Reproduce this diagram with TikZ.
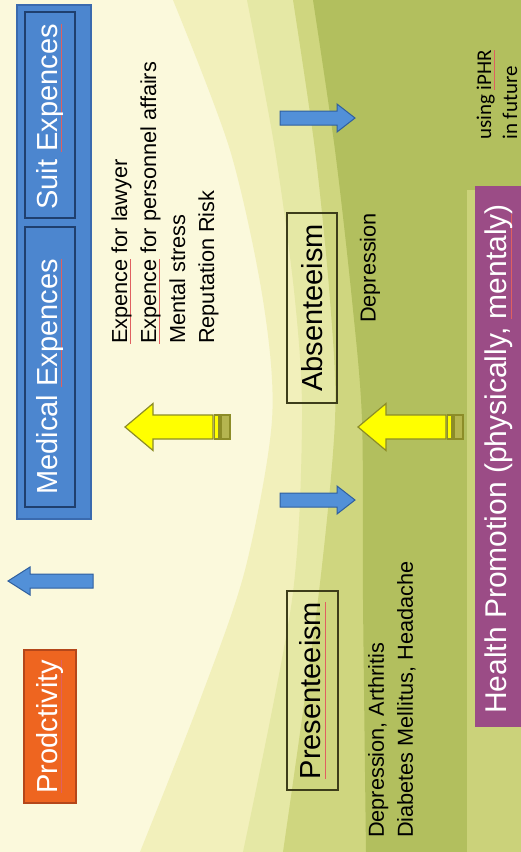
\documentclass[tikz,border=0pt]{standalone}
\usepackage{fontspec}
\setmainfont{Liberation Sans}
\newfontfamily\notefont{Carlito}

\definecolor{cream}{HTML}{FBF9DC}
\definecolor{pale}{HTML}{F2F0BB}
\definecolor{bandtwo}{HTML}{E5E8A5}
\definecolor{bandthree}{HTML}{CFD67F}
\definecolor{leaf}{HTML}{B2BF5E}
\definecolor{stripgreen}{HTML}{CBD27A}
\definecolor{boxblue}{HTML}{4C86CF}
\definecolor{boxblueline}{HTML}{3A6AAE}
\definecolor{navy}{HTML}{1F3F6E}
\definecolor{orangebox}{HTML}{EE6520}
\definecolor{orangeline}{HTML}{B4471A}
\definecolor{plum}{HTML}{9B4C86}
\definecolor{olive}{HTML}{3D3D1A}
\definecolor{arrowblue}{HTML}{5290D8}
\definecolor{arrowblueline}{HTML}{2F5F9E}
\definecolor{arrowyellow}{HTML}{FFFF00}
\definecolor{arrowyellowline}{HTML}{8C8C28}
\definecolor{ystripe}{HTML}{B5B550}
\definecolor{sqred}{HTML}{E06060}

% spell-check style underline
\newsavebox\sqbox
\newcommand\sq[1]{\sbox\sqbox{#1}\rlap{\textcolor{sqred}{\rule[-0.3ex]{\wd\sqbox}{0.6pt}}}\usebox\sqbox}

\tikzset{
  bigtext/.style={font=\fontsize{29}{34}\selectfont},
  smalltext/.style={font=\fontsize{21.7}{29}\selectfont, align=left, inner sep=0pt, text=black},
  outerblue/.style={draw=boxblueline, fill=boxblue, line width=1.2pt},
  innerblue/.style={draw=navy, line width=1.5pt, inner sep=0pt, rotate=90},
  bluelabel/.style={bigtext, text=white, inner sep=0pt, rotate=90},
  orangecard/.style={draw=orangeline, fill=orangebox, line width=1.2pt, bigtext, text=white, inner sep=0pt, rotate=90},
  outlinebox/.style={draw=olive, line width=1.2pt, bigtext, text=black, inner sep=0pt, rotate=90},
  bluearrowstyle/.style={draw=arrowblueline, fill=arrowblue, line width=1pt, line join=miter},
  yarrowstyle/.style={draw=arrowyellowline, fill=arrowyellow, line width=1.2pt, line join=miter},
  pics/bluearrow/.style n args={2}{code={%
    \draw[bluearrowstyle] (0,0) -- (-#2,-14) -- (-#2,-7) -- (-#1,-7) -- (-#1,7) -- (-#2,7) -- (-#2,14) -- cycle;}},
  pics/yellowarrow/.style={code={%
    \draw[yarrowstyle] (0,0) -- (28,-23.5) -- (28,-12) -- (88,-12) -- (88,12) -- (28,12) -- (28,23.5) -- cycle;
    \draw[yarrowstyle] (89.5,-12) rectangle (94,12);
    \draw[yarrowstyle, fill=ystripe] (96,-12) rectangle (105,12);}}
}

\begin{document}
\begin{tikzpicture}[x=1pt, y=-1pt]
\useasboundingbox (0,0) rectangle (521,852);
\clip (0,0) rectangle (521,852);

% curved background bands
\fill[cream] (0,0) rectangle (521,852);
\fill[pale] plot[smooth] coordinates {(173,0) (230,150) (263,300) (272,420) (245,570) (200,700) (140,852)}
  -- (540,852) -- (540,0) -- cycle;
\fill[bandtwo] plot[smooth] coordinates {(247,0) (275,150) (295,300) (302,420) (292,600) (243,852)}
  -- (540,852) -- (540,0) -- cycle;
\fill[bandthree] plot[smooth] coordinates {(293,0) (315,150) (330,300) (335,420) (318,600) (283,852)}
  -- (540,852) -- (540,0) -- cycle;
\fill[leaf] plot[smooth] coordinates {(313,0) (335,150) (352,300) (362,420) (363,600) (366,852)}
  -- (540,852) -- (540,0) -- cycle;
\fill[stripgreen] (467,190) rectangle (540,852);

% cost boxes
\draw[outerblue] (17,5) rectangle (91,519);
\node[innerblue, minimum width=206pt, minimum height=50pt] (suit) at (50,115) {};
\node[bluelabel] (suitlabel) at (50,117) {Suit \sq{Expences}};
\node[innerblue, minimum width=280pt, minimum height=50pt] (medical) at (50,367) {};
\node[bluelabel] (medicallabel) at (50,377) {Medical \sq{Expences}};

\node[orangecard, minimum width=153pt, minimum height=52pt] (prod) at (50,726.5) {\sq{Prodctivity}};

\node[outlinebox, minimum width=190pt, minimum height=50pt] (absent) at (312,308) {Absenteeism};
\node[outlinebox, minimum width=199pt, minimum height=51pt] (present) at (312.5,690.5) {\sq{Presenteeism}};

% cost and illness lists
\node[smalltext, rotate=90, anchor=west] (suititems) at (165,344)
  {\sq{Expence} for lawyer\\ \sq{Expence} for personnel affairs\\ Mental stress\\ Reputation Risk};
\node[smalltext, rotate=90, anchor=west] (absentitems) at (370,323) {Depression};
\node[smalltext, rotate=90, anchor=west] (presentitems) at (392,838)
  {Depression, Arthritis\\ Diabetes Mellitus, Headache};

% health promotion bar
\fill[plum] (475,186) rectangle (540,727);
\node[font=\fontsize{30}{34}\selectfont, text=white, rotate=90, inner sep=0pt] (promo) at (499,459)
  {Health Promotion (physically, \sq{mentaly})};
\node[font=\notefont\fontsize{21}{26}\selectfont, text=black, rotate=90, anchor=west, align=left, inner sep=0pt]
  (future) at (497,140) {using \sq{iPHR}\\ in future};

% block arrows
\pic at (355,118) {bluearrow={75}{18}};
\pic at (355,500) {bluearrow={75}{18}};
\pic[rotate=180] at (8,581) {bluearrow={85}{22}};
\pic at (125,427) {yellowarrow};
\pic at (358,427) {yellowarrow};
\end{tikzpicture}
\end{document}
